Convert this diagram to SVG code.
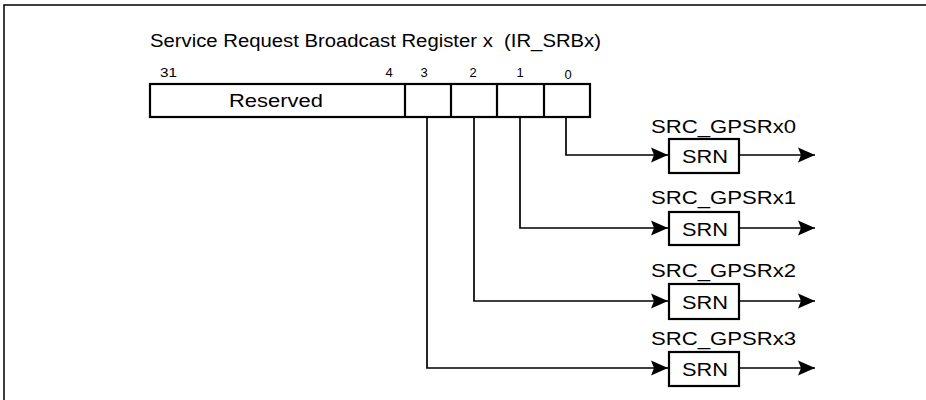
<svg xmlns="http://www.w3.org/2000/svg" width="926" height="400" viewBox="0 0 926 400">
<style>
text{font-family:"Liberation Sans",Arial,sans-serif;fill:#000}
.t{font-size:18px}
.b{font-size:13px}
.reg{fill:#fff;stroke:#000;stroke-width:2.2}
.box{fill:#fff;stroke:#000;stroke-width:2.2}
.ln{fill:none;stroke:#000;stroke-width:1.7}
</style>
<defs>
<marker id="ah" markerUnits="userSpaceOnUse" markerWidth="18" markerHeight="16" refX="17" refY="8" orient="auto">
<path d="M0,0.5 L17,8 L0,15.5 L3,8 Z" fill="#000"/>
</marker>
</defs>
<rect width="926" height="400" fill="#fff"/>
<path d="M4,400 V5 H926" fill="none" stroke="#000" stroke-width="1.5"/>
<g id="register">
<text class="t" x="150" y="47" textLength="451" lengthAdjust="spacingAndGlyphs">Service Request Broadcast Register x&#160; (IR_SRBx)</text>
<text class="b" x="160" y="77" textLength="17" lengthAdjust="spacingAndGlyphs">31</text>
<text class="b" x="389" y="77" text-anchor="middle">4</text>
<text class="b" x="424" y="77" text-anchor="middle">3</text>
<text class="b" x="473" y="77" text-anchor="middle">2</text>
<text class="b" x="520" y="77" text-anchor="middle">1</text>
<text class="b" x="568" y="79" text-anchor="middle" font-size="12">0</text>
<rect class="reg" x="150" y="84" width="440" height="33"/>
<line class="reg" x1="405" y1="84" x2="405" y2="117"/>
<line class="reg" x1="451" y1="84" x2="451" y2="117"/>
<line class="reg" x1="497" y1="84" x2="497" y2="117"/>
<line class="reg" x1="544" y1="84" x2="544" y2="117"/>
<text class="t" x="276" y="107" text-anchor="middle" textLength="94" lengthAdjust="spacingAndGlyphs">Reserved</text>
</g>
<g id="connectors">
<path class="ln" d="M566,117 V155 H668" marker-end="url(#ah)"/>
<path class="ln" d="M520,117 V228 H668" marker-end="url(#ah)"/>
<path class="ln" d="M474,117 V301 H668" marker-end="url(#ah)"/>
<path class="ln" d="M427,117 V368 H668" marker-end="url(#ah)"/>
<path class="ln" d="M740,155 H815" marker-end="url(#ah)"/>
<path class="ln" d="M740,228 H815" marker-end="url(#ah)"/>
<path class="ln" d="M740,301 H815" marker-end="url(#ah)"/>
<path class="ln" d="M740,368 H815" marker-end="url(#ah)"/>
</g>
<g id="srn0">
<text class="t" x="651" y="133" textLength="145" lengthAdjust="spacingAndGlyphs">SRC_GPSRx0</text>
<rect class="box" x="669" y="139" width="70" height="34"/>
<text class="t" x="705" y="163" text-anchor="middle" textLength="46" lengthAdjust="spacingAndGlyphs">SRN</text>
</g>
<g id="srn1">
<text class="t" x="651" y="204" textLength="145" lengthAdjust="spacingAndGlyphs">SRC_GPSRx1</text>
<rect class="box" x="669" y="212" width="70" height="33"/>
<text class="t" x="705" y="236" text-anchor="middle" textLength="46" lengthAdjust="spacingAndGlyphs">SRN</text>
</g>
<g id="srn2">
<text class="t" x="651" y="277" textLength="145" lengthAdjust="spacingAndGlyphs">SRC_GPSRx2</text>
<rect class="box" x="669" y="284" width="70" height="35"/>
<text class="t" x="705" y="309" text-anchor="middle" textLength="46" lengthAdjust="spacingAndGlyphs">SRN</text>
</g>
<g id="srn3">
<text class="t" x="651" y="345" textLength="145" lengthAdjust="spacingAndGlyphs">SRC_GPSRx3</text>
<rect class="box" x="669" y="352" width="70" height="34"/>
<text class="t" x="705" y="376" text-anchor="middle" textLength="46" lengthAdjust="spacingAndGlyphs">SRN</text>
</g>
</svg>
